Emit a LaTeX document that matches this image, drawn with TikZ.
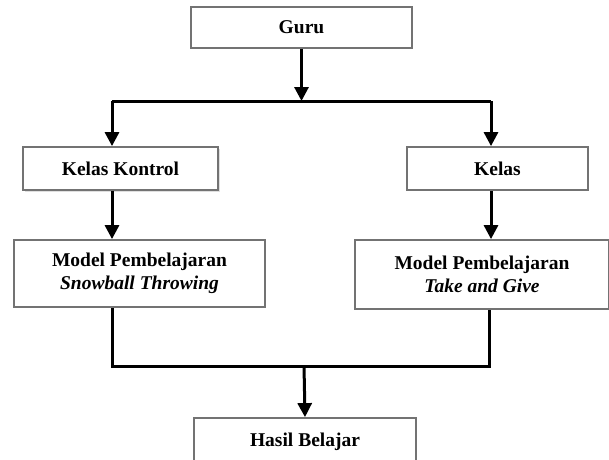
\documentclass[tikz,border=0pt]{standalone}
\usepackage{fontspec}
\setmainfont{Liberation Serif}
\usetikzlibrary{positioning, arrows.meta, shadows}

\begin{document}
\begin{tikzpicture}[
    x=1pt, y=1pt,
    every node/.style={font=\fontsize{19.5}{23}\selectfont\bfseries, align=center, inner sep=0pt},
    box/.style={draw=black!55, line width=1.8pt, fill=white, rectangle},
    link/.style={line width=3pt, black},
    >={Triangle[length=14pt, width=14pt]}
]
\useasboundingbox (0,0) rectangle (609,-459);

\node[box, minimum width=221pt, minimum height=41pt] (guru) at (301.5,-27.5) {Guru};
\node[box, minimum width=195pt, minimum height=43pt,
      drop shadow={shadow xshift=2pt, shadow yshift=-2pt, fill=black!25}] (kontrol) at (120.5,-168.5) {Kelas Kontrol};
\node[box, minimum width=181pt, minimum height=43pt] (kelas) at (497.5,-168.5) {Kelas};
\node[box, minimum width=251pt, minimum height=67pt] (snowball) at (139.5,-273.5) {Model Pembelajaran\\ \textit{Snowball Throwing}};
\node[box, minimum width=254pt, minimum height=69pt] (takegive) at (482,-274.5) {Model Pembelajaran\\ \textit{Take and Give}};
\node[box, minimum width=222pt, minimum height=48pt] (hasil) at (305,-442) {Hasil Belajar};

% branch points
\coordinate (split) at (301.5,-101);
\coordinate (splitL) at (112,-101);
\coordinate (splitR) at (491,-101);
\coordinate (join) at (304,-366);

\draw[link, ->] (guru.south) -- (split);
\draw[link] (splitL) -- (splitR);
\draw[link, ->] (splitL) -- (splitL |- kontrol.north);
\draw[link, ->] (splitR) -- (splitR |- kelas.north);
\draw[link, ->] (kontrol.south -| splitL) -- (splitL |- snowball.north);
\draw[link, ->] (kelas.south -| splitR) -- (splitR |- takegive.north);
\draw[link] (snowball.south -| splitL) |- (join) -| ([xshift=-2pt]takegive.south -| splitR);
\draw[link, ->] (join) -- (hasil.north);
\end{tikzpicture}
\end{document}
